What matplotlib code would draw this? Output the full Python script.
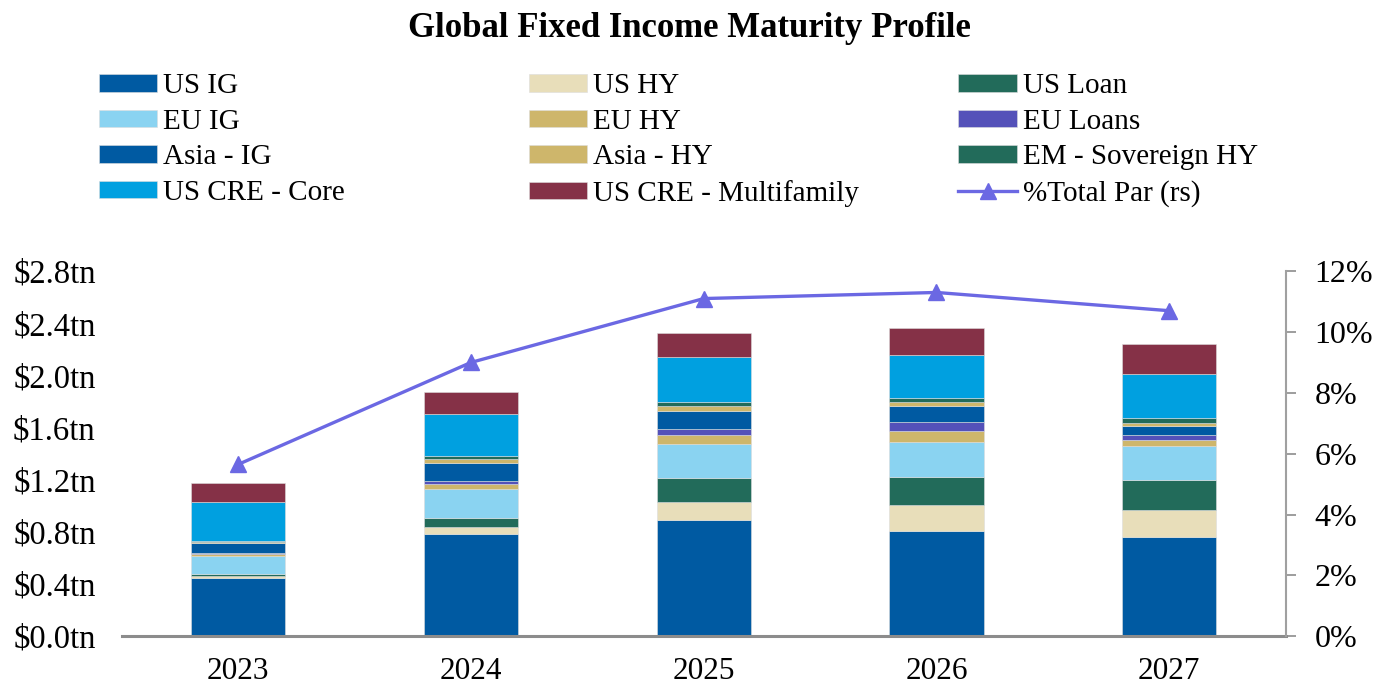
import numpy as np
import matplotlib
matplotlib.use('Agg')
import matplotlib.pyplot as plt
from matplotlib.ticker import FuncFormatter

plt.rcParams['font.family'] = ['Liberation Serif', 'DejaVu Serif']

# Data (USD tn)
years = ['2023', '2024', '2025', '2026', '2027']
us_ig = [0.444, 0.785, 0.890, 0.808, 0.764]
us_hy = [0.018, 0.056, 0.141, 0.195, 0.205]
us_loan = [0.013, 0.067, 0.182, 0.215, 0.231]
eu_ig = [0.141, 0.223, 0.262, 0.269, 0.256]
eu_hy = [0.015, 0.040, 0.069, 0.085, 0.046]
eu_loans = [0.004, 0.020, 0.046, 0.069, 0.042]
asia_ig = [0.077, 0.134, 0.135, 0.123, 0.066]
asia_hy = [0.008, 0.036, 0.038, 0.036, 0.026]
em_sov_hy = [0.008, 0.023, 0.036, 0.028, 0.038]
cre_core = [0.300, 0.323, 0.341, 0.328, 0.338]
cre_multi = [0.149, 0.166, 0.188, 0.211, 0.233]
pct_total_par = [5.65, 9.0, 11.1, 11.3, 10.7]

series = [
    ('US IG', us_ig, '#005AA2'),
    ('US HY', us_hy, '#E8DEBA'),
    ('US Loan', us_loan, '#226B5A'),
    ('EU IG', eu_ig, '#8AD3F1'),
    ('EU HY', eu_hy, '#CEB66B'),
    ('EU Loans', eu_loans, '#5451B9'),
    ('Asia - IG', asia_ig, '#005AA2'),
    ('Asia - HY', asia_hy, '#CEB66B'),
    ('EM - Sovereign HY', em_sov_hy, '#226B5A'),
    ('US CRE - Core', cre_core, '#00A0E0'),
    ('US CRE - Multifamily', cre_multi, '#853147'),
]

fig = plt.figure(figsize=(13.77, 6.9), dpi=100)
ax = fig.add_axes([0.0886, 0.078, 0.845, 0.529])
x = np.arange(len(years))

handles = {}
bottom = np.zeros(len(years))
for name, vals, color in series:
    b = ax.bar(x, vals, width=0.405, bottom=bottom, color=color,
               edgecolor='#dddddd', linewidth=0.4, label=name)
    handles[name] = b
    bottom += np.array(vals)

ax.set_xlim(-0.5, 4.5)
ax.set_ylim(0, 2.8)
ax.set_yticks(np.arange(0, 2.81, 0.4))
ax.yaxis.set_major_formatter(FuncFormatter(lambda v, p: f'${v:.1f}tn'))
ax.set_xticks(x)
ax.set_xticklabels(years)
ax.tick_params(axis='y', length=0, pad=19, labelsize=23.5)
ax.tick_params(axis='x', length=0, pad=15, labelsize=22.5)
for s in ['left', 'top', 'right']:
    ax.spines[s].set_visible(False)
ax.spines['bottom'].set_color('#8c8c8c')
ax.spines['bottom'].set_linewidth(2.2)

ax2 = ax.twinx()
line, = ax2.plot(x, pct_total_par, color='#6B68E3', linewidth=2.4,
                 marker='^', markersize=12, label='%Total Par (rs)')
ax2.set_ylim(0, 12)
ax2.set_yticks(np.arange(0, 12.1, 2))
ax2.yaxis.set_major_formatter(FuncFormatter(lambda v, p: f'{v:.0f}%'))
ax2.tick_params(axis='y', length=7, width=1.2, color='#8c8c8c', pad=14, labelsize=23)
for s in ['left', 'top', 'bottom']:
    ax2.spines[s].set_visible(False)
ax2.spines['right'].set_color('#a0a0a0')
ax2.spines['right'].set_linewidth(1.5)

# legend: three columns placed separately
cols = [
    ['US IG', 'EU IG', 'Asia - IG', 'US CRE - Core'],
    ['US HY', 'EU HY', 'Asia - HY', 'US CRE - Multifamily'],
    ['US Loan', 'EU Loans', 'EM - Sovereign HY', None],
]
xpos = [0.072, 0.384, 0.696]
for cx, names in zip(xpos, cols):
    hs = [handles[n] if n else line for n in names]
    labs = [n if n else '%Total Par (rs)' for n in names]
    fig.legend(hs, labs, loc='upper left', bbox_to_anchor=(cx, 0.894),
               frameon=False, fontsize=21, handlelength=2.0, handleheight=0.55,
               handletextpad=0.2, labelspacing=0.33, borderaxespad=0,
               borderpad=0)

fig.suptitle('Global Fixed Income Maturity Profile', x=0.501, y=0.982,
             fontsize=25, fontweight='bold')

fig.savefig('out.png', dpi=100)
